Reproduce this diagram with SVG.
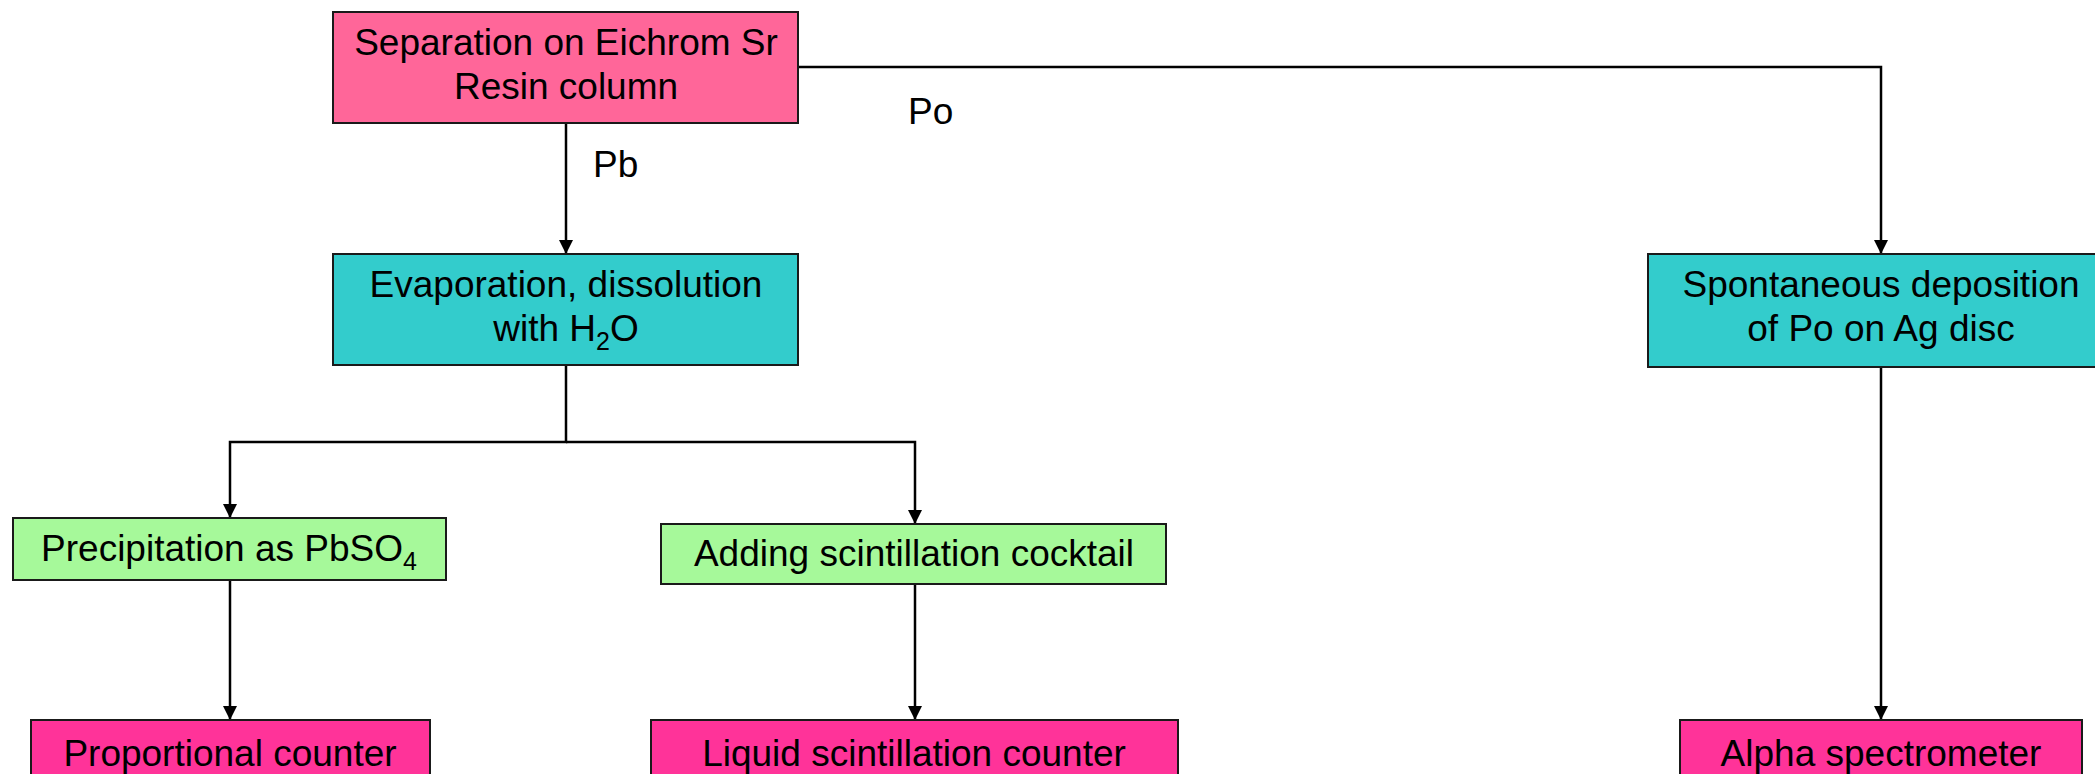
<svg xmlns="http://www.w3.org/2000/svg" width="2095" height="774" viewBox="0 0 2095 774">
<style>
.box{stroke:#1a1a1a;stroke-width:2}
.pink{fill:#FF6699}
.teal{fill:#33CCCC}
.green{fill:#A6F99A}
.mag{fill:#FF3399}
text{font-family:"Liberation Sans",Arial,sans-serif;font-size:37px;fill:#000}
.c{text-anchor:middle}
.conn{fill:none;stroke:#000;stroke-width:2.5}
</style>
<defs>
<marker id="arr" markerWidth="14" markerHeight="14" refX="14" refY="7" orient="auto" markerUnits="userSpaceOnUse">
<path d="M0,0 L14,7 L0,14 Z" fill="#000"/>
</marker>
</defs>
<rect width="2095" height="774" fill="#fff"/>
<g id="connectors">
<path class="conn" d="M566,123 V254" marker-end="url(#arr)"/>
<path class="conn" d="M798,67 H1881 V254" marker-end="url(#arr)"/>
<path class="conn" d="M566,365 V442 H230 V518" marker-end="url(#arr)"/>
<path class="conn" d="M566,442 H915 V524" marker-end="url(#arr)"/>
<path class="conn" d="M230,580 V720" marker-end="url(#arr)"/>
<path class="conn" d="M915,584 V720" marker-end="url(#arr)"/>
<path class="conn" d="M1881,367 V720" marker-end="url(#arr)"/>
<text x="593" y="177">Pb</text>
<text x="908" y="124">Po</text>
</g>
<g id="sep">
<rect class="box pink" x="333" y="12" width="465" height="111"/>
<text class="c" x="566" y="55">Separation on Eichrom Sr</text>
<text class="c" x="566" y="99">Resin column</text>
</g>
<g id="evap">
<rect class="box teal" x="333" y="254" width="465" height="111"/>
<text class="c" x="566" y="297">Evaporation, dissolution</text>
<text class="c" x="566" y="341">with H<tspan font-size="25" dy="9">2</tspan><tspan dy="-9">O</tspan></text>
</g>
<g id="spont">
<rect class="box teal" x="1648" y="254" width="466" height="113"/>
<text class="c" x="1881" y="297">Spontaneous deposition</text>
<text class="c" x="1881" y="341">of Po on Ag disc</text>
</g>
<g id="precip">
<rect class="box green" x="13" y="518" width="433" height="62"/>
<text class="c" x="229" y="561">Precipitation as PbSO<tspan font-size="25" dy="9">4</tspan></text>
</g>
<g id="adding">
<rect class="box green" x="661" y="524" width="505" height="60"/>
<text class="c" x="914" y="566">Adding scintillation cocktail</text>
</g>
<g id="prop">
<rect class="box mag" x="31" y="720" width="399" height="80"/>
<text class="c" x="230" y="766">Proportional counter</text>
</g>
<g id="lsc">
<rect class="box mag" x="651" y="720" width="527" height="80"/>
<text class="c" x="914" y="766">Liquid scintillation counter</text>
</g>
<g id="alpha">
<rect class="box mag" x="1680" y="720" width="402" height="80"/>
<text class="c" x="1881" y="766">Alpha spectrometer</text>
</g>
</svg>
